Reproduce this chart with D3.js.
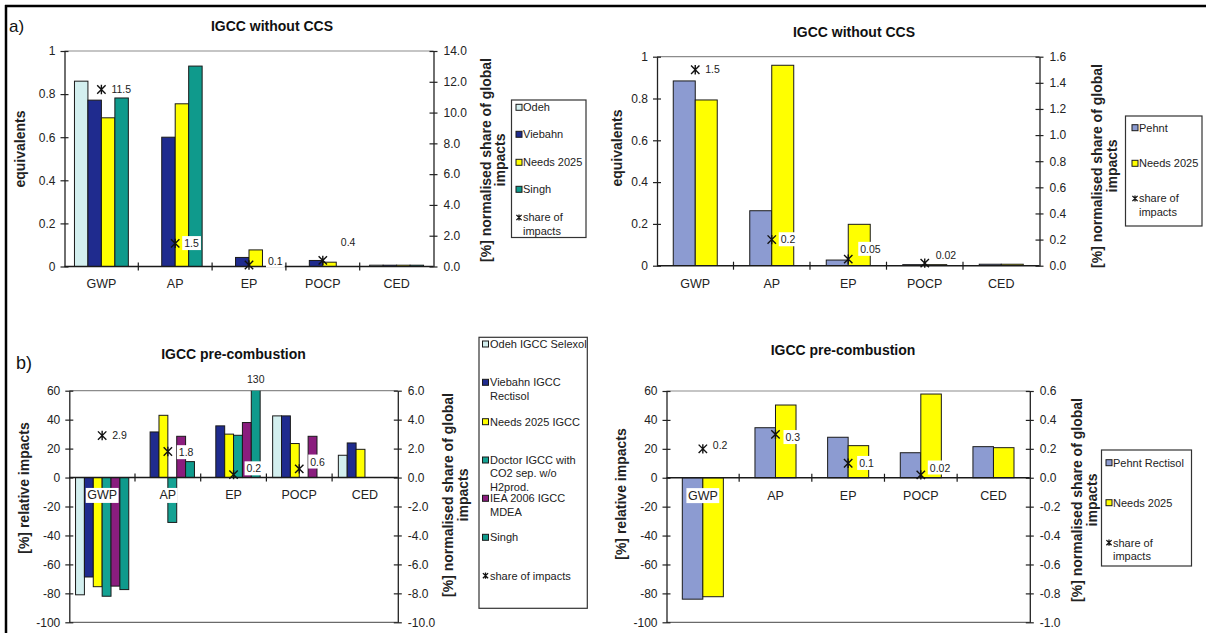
<!DOCTYPE html>
<html>
<head>
<meta charset="utf-8">
<script src="https://cdn.jsdelivr.net/npm/d3@7"></script>
<style>
  body { margin: 0; background: #fff; }
  svg { display: block; font-family: "Liberation Sans", Arial, sans-serif; }
</style>
</head>
<body>
<svg id="fig" width="1206" height="633"></svg>
<script>
// ---------- data ----------
const categories = ["GWP", "AP", "EP", "POCP", "CED"];

// a) IGCC without CCS, literature studies (equivalents)
const aLitSeries = ["Odeh", "Viebahn", "Needs 2025", "Singh"];
const aLitOdeh    = [0.86, null, null, null, 0.006];
const aLitViebahn = [0.772, 0.60, 0.042, 0.028, 0.006];
const aLitNeeds   = [0.69, 0.755, 0.077, 0.02, 0.006];
const aLitSingh   = [0.782, 0.93, null, null, 0.006];
const aLitShare   = [11.5, 1.5, 0.1, 0.4, null];

// a) IGCC without CCS, Pehnt vs Needs (equivalents)
const aPehSeries = ["Pehnt", "Needs 2025"];
const aPehPehnt  = [0.884, 0.263, 0.027, 0.005, 0.007];
const aPehNeeds  = [0.793, 0.959, 0.198, 0.005, 0.007];
const aPehShare  = [1.5, 0.2, 0.05, 0.02, null];

// b) IGCC pre-combustion, literature studies (% relative impacts)
const bLitSeries = ["Odeh IGCC Selexol", "Viebahn IGCC\nRectisol", "Needs 2025 IGCC",
                    "Doctor IGCC with\nCO2 sep. w/o\nH2prod.", "IEA 2006 IGCC\nMDEA", "Singh"];
const bLitOdeh    = [-81, null, null, 42.6, 15.4];
const bLitViebahn = [-68.7, 31.5, 35.7, 42.6, 23.9];
const bLitNeeds   = [-75.4, 43, 30, 23.5, 19.5];
const bLitDoctor  = [-82, -31, 29.2, null, null];
const bLitIEA     = [-75, 28.5, 38, 28.5, null];
const bLitSingh   = [-77.4, 11, 130, null, null];
const bLitShare   = [2.9, 1.8, 0.2, 0.6, null];

// b) IGCC pre-combustion, Pehnt vs Needs (% relative impacts)
const bPehSeries = ["Pehnt Rectisol", "Needs 2025"];
const bPehPehnt  = [-84, 34.6, 28, 17.3, 21.5];
const bPehNeeds  = [-82.3, 50.3, 22.2, 57.9, 20.8];
const bPehShare  = [0.2, 0.3, 0.1, 0.02, null];

// axis tick values
const ticksEquiv   = [0, 0.2, 0.4, 0.6, 0.8, 1];
const ticksShareA1 = [0, 2, 4, 6, 8, 10, 12, 14];
const ticksShareA2 = [0, 0.2, 0.4, 0.6, 0.8, 1.0, 1.2, 1.4, 1.6];
const ticksRel     = [-100, -80, -60, -40, -20, 0, 20, 40, 60];
const ticksShareB1 = [-10, -8, -6, -4, -2, 0, 2, 4, 6];
const ticksShareB2 = [-1.0, -0.8, -0.6, -0.4, -0.2, 0, 0.2, 0.4, 0.6];

const shareLegend = "share of\nimpacts";
const shareLegendOneLine = "share of impacts";

// ---------- styles ----------
const C = {
  odeh: "#d3efef", viebahn: "#1f2b8e", needs: "#ffff00", singh: "#0f9a8c",
  doctor: "#15a293", iea: "#8a1d7e", pehnt: "#8c9bd1"
};

const svg = d3.select("#fig");
svg.append("rect").attr("width", 1206).attr("height", 633).attr("fill", "#fff");

const fmtPlain = v => String(Math.round(v * 10) / 10);
const fmtFixed1 = v => { const s = (Math.round(v * 10) / 10).toFixed(1); return s === "-0.0" ? "0.0" : s; };

function markerPath(r) {
  return `M${-r},${-r}L${r},${r}M${-r},${r}L${r},${-r}M0,${-r - 0.5}L0,${r + 0.5}`;
}

function drawPanel(c) {
  const g = svg.append("g");
  const x0 = d3.scaleBand().domain(categories).range([c.left, c.right]);
  const step = x0.step();
  const gw = step * c.groupFrac;
  const x1 = d3.scaleBand().domain(d3.range(c.series.length)).range([0, gw]);
  const y = d3.scaleLinear().domain(c.yDomain).range([c.bottom, c.top]);
  const y2 = d3.scaleLinear().domain(c.y2Domain).range([c.bottom, c.top]);
  const y0 = y(0);

  // plot frame lines (gray)
  g.append("line").attr("x1", c.left).attr("x2", c.right).attr("y1", c.top).attr("y2", c.top)
    .attr("stroke", "#8c8c8c").attr("stroke-width", 1.2);
  if (Math.abs(c.bottom - y0) > 1) {
    g.append("line").attr("x1", c.left).attr("x2", c.right).attr("y1", c.bottom).attr("y2", c.bottom)
      .attr("stroke", "#6a6a6a").attr("stroke-width", 1.2);
  }

  // bars
  const clipId = "clip-" + c.id;
  svg.append("clipPath").attr("id", clipId).append("rect")
    .attr("x", c.left).attr("y", c.top).attr("width", c.right - c.left).attr("height", c.bottom - c.top);
  const bars = g.append("g").attr("clip-path", `url(#${clipId})`);
  const overs = [];
  c.series.forEach((s, si) => {
    s.values.forEach((v, ci) => {
      if (v == null) return;
      const bx = x0(categories[ci]) + (step - gw) / 2 + x1(si);
      bars.append("rect")
        .attr("x", bx).attr("width", x1.bandwidth())
        .attr("y", y(Math.max(0, v)))
        .attr("height", Math.max(0.8, Math.abs(y(v) - y0)))
        .attr("fill", s.color).attr("stroke", "#1a1a1a").attr("stroke-width", 1);
      if (v > c.yDomain[1]) overs.push({ x: bx + x1.bandwidth() / 2, v });
    });
  });
  overs.forEach(o => {
    g.append("text").attr("x", o.x).attr("y", c.top - 8).attr("text-anchor", "middle")
      .attr("font-size", 10.5).attr("fill", "#222").text(String(o.v));
  });

  // left axis
  const ax = g.append("g").attr("transform", `translate(${c.left},0)`)
    .call(d3.axisLeft(y).tickValues(c.yTicks).tickFormat(c.yFmt).tickSizeInner(4).tickSizeOuter(0).tickPadding(5));
  ax.select(".domain").attr("stroke", "#222").attr("stroke-width", 1.3);
  ax.selectAll(".tick line").attr("x1", 4).attr("stroke", "#222").attr("stroke-width", 1.2);
  ax.selectAll(".tick text").attr("font-size", 12).attr("fill", "#222").attr("font-family", null);

  // right axis
  const ax2 = g.append("g").attr("transform", `translate(${c.right},0)`)
    .call(d3.axisRight(y2).tickValues(c.y2Ticks).tickFormat(fmtFixed1).tickSizeInner(4).tickSizeOuter(0).tickPadding(6));
  ax2.select(".domain").attr("stroke", "#222").attr("stroke-width", 1.3);
  ax2.selectAll(".tick line").attr("x1", -4).attr("stroke", "#222").attr("stroke-width", 1.2);
  ax2.selectAll(".tick text").attr("font-size", 12).attr("fill", "#222").attr("font-family", null);

  // category axis along zero line
  g.append("line").attr("x1", c.left).attr("x2", c.right).attr("y1", y0).attr("y2", y0)
    .attr("stroke", "#1a1a1a").attr("stroke-width", 1.4);
  d3.range(1, categories.length).forEach(i => {
    const xx = c.left + i * step;
    g.append("line").attr("x1", xx).attr("x2", xx).attr("y1", y0 - 4).attr("y2", y0 + 4)
      .attr("stroke", "#1a1a1a").attr("stroke-width", 1.2);
  });
  const xa = g.append("g").attr("transform", `translate(0,${y0})`)
    .call(d3.axisBottom(x0).tickSize(0).tickPadding(c.catPad));
  xa.select(".domain").remove();
  xa.selectAll(".tick text").attr("font-size", 12.5).attr("fill", "#222").attr("font-family", null);
  xa.selectAll(".tick").each(function () {
    const t = d3.select(this).select("text");
    const bb = t.node().getBBox();
    d3.select(this).insert("rect", "text")
      .attr("x", bb.x - 1.5).attr("y", bb.y - 0.5).attr("width", bb.width + 3).attr("height", bb.height + 1)
      .attr("fill", "#fff");
  });

  // share-of-impacts markers and labels
  c.share.forEach((v, ci) => {
    if (v == null) return;
    const mx = x0(categories[ci]) + step / 2;
    const my = y2(v);
    const off = c.labelOffsets[ci];
    const lg = g.append("g");
    const t = lg.append("text").attr("x", mx + off[0]).attr("y", my + off[1]).attr("dy", "0.35em")
      .attr("font-size", 10.5).attr("fill", "#222").text(String(v));
    const bb = t.node().getBBox();
    lg.insert("rect", "text").attr("x", bb.x - 2).attr("y", bb.y - 1)
      .attr("width", bb.width + 4).attr("height", bb.height + 2).attr("fill", "#fff");
    g.append("path").attr("d", markerPath(4.2)).attr("transform", `translate(${mx},${my})`)
      .attr("stroke", "#111").attr("stroke-width", 1.4).attr("fill", "none");
  });

  // titles
  g.append("text").attr("x", c.titleX).attr("y", c.titleY).attr("text-anchor", "middle")
    .attr("font-size", 14).attr("font-weight", "bold").attr("fill", "#111").text(c.title);
  g.append("text").attr("transform", `translate(${c.yTitleX},${c.yTitleY}) rotate(-90)`)
    .attr("text-anchor", "middle").attr("dy", "0.35em")
    .attr("font-size", 14).attr("font-weight", "bold").attr("fill", "#222").text(c.yTitle);
  c.y2Title.forEach((line, i) => {
    g.append("text").attr("transform", `translate(${c.y2TitleX[i]},${c.y2TitleY}) rotate(-90)`)
      .attr("text-anchor", "middle").attr("dy", "0.35em")
      .attr("font-size", 14).attr("font-weight", "bold").attr("fill", "#222").text(line);
  });

  // legend
  const L = c.legend;
  g.append("rect").attr("x", L.x).attr("y", L.y).attr("width", L.w).attr("height", L.h)
    .attr("fill", "#fff").attr("stroke", "#333").attr("stroke-width", 1.2);
  const entries = c.series.map(s => ({ label: s.name, color: s.color }))
    .concat([{ label: c.shareLabel, color: null }]);
  entries.forEach((e, i) => {
    const ey = L.itemY[i];
    if (e.color) {
      g.append("rect").attr("x", L.swX).attr("y", ey - 3).attr("width", 6).attr("height", 6)
        .attr("fill", e.color).attr("stroke", "#1a1a1a").attr("stroke-width", 1);
    } else {
      g.append("path").attr("d", markerPath(2.6)).attr("transform", `translate(${L.swX + 3},${ey})`)
        .attr("stroke", "#111").attr("stroke-width", 1.3).attr("fill", "none");
    }
    e.label.split("\n").forEach((line, li) => {
      g.append("text").attr("x", L.txX + (li > 0 && L.indent ? L.indent : 0)).attr("y", ey + li * L.lh)
        .attr("dy", "0.35em").attr("font-size", 11).attr("fill", "#222").text(line);
    });
  });
}

// frame
svg.append("line").attr("x1", 5).attr("x2", 1206).attr("y1", 6).attr("y2", 6).attr("stroke", "#000").attr("stroke-width", 2.5);
svg.append("line").attr("x1", 6).attr("x2", 6).attr("y1", 5).attr("y2", 633).attr("stroke", "#000").attr("stroke-width", 2.5);
svg.append("text").attr("x", 9).attr("y", 32).attr("font-size", 17).attr("fill", "#111").text("a)");
svg.append("text").attr("x", 16).attr("y", 369).attr("font-size", 18).attr("fill", "#111").text("b)");

const y2TitleLines = ["[%] normalised share of global", "impacts"];

drawPanel({
  id: "aLit", left: 64.5, right: 433.5, top: 51, bottom: 266.5, groupFrac: 0.73, catPad: 13,
  yDomain: [0, 1], yTicks: ticksEquiv, yFmt: fmtPlain,
  y2Domain: [0, 14], y2Ticks: ticksShareA1,
  series: [
    { name: aLitSeries[0], color: C.odeh, values: aLitOdeh },
    { name: aLitSeries[1], color: C.viebahn, values: aLitViebahn },
    { name: aLitSeries[2], color: C.needs, values: aLitNeeds },
    { name: aLitSeries[3], color: C.singh, values: aLitSingh }
  ],
  share: aLitShare, labelOffsets: [[10, 0], [9, 0], [19, -4], [18, -18]],
  title: "IGCC without CCS", titleX: 272, titleY: 31,
  yTitle: "equivalents", yTitleX: 20.5, yTitleY: 149,
  y2Title: y2TitleLines, y2TitleX: [486, 500], y2TitleY: 160,
  shareLabel: shareLegend,
  legend: { x: 511.5, y: 100, w: 74.5, h: 137.5, swX: 516, txX: 523, lh: 14, indent: 0,
            itemY: [107.3, 134.3, 162.3, 189.3, 217.5] }
});

drawPanel({
  id: "aPeh", left: 657, right: 1039.5, top: 56.7, bottom: 265.7, groupFrac: 0.575, catPad: 13,
  yDomain: [0, 1], yTicks: ticksEquiv, yFmt: fmtPlain,
  y2Domain: [0, 1.6], y2Ticks: ticksShareA2,
  series: [
    { name: aPehSeries[0], color: C.pehnt, values: aPehPehnt },
    { name: aPehSeries[1], color: C.needs, values: aPehNeeds }
  ],
  share: aPehShare, labelOffsets: [[10, 0], [9, 0], [12, -10], [11, -8]],
  title: "IGCC without CCS", titleX: 854, titleY: 37,
  yTitle: "equivalents", yTitleX: 617.5, yTitleY: 148,
  y2Title: y2TitleLines, y2TitleX: [1097, 1112.5], y2TitleY: 166,
  shareLabel: shareLegend,
  legend: { x: 1125.5, y: 116, w: 76.5, h: 110, swX: 1132, txX: 1139, lh: 13.5, indent: 0,
            itemY: [127.7, 163.3, 198.5] }
});

drawPanel({
  id: "bLit", left: 69.3, right: 397.8, top: 390.7, bottom: 622.3, groupFrac: 0.81, catPad: 13,
  yDomain: [-100, 60], yTicks: ticksRel, yFmt: fmtPlain,
  y2Domain: [-10, 6], y2Ticks: ticksShareB1,
  series: [
    { name: bLitSeries[0], color: C.odeh, values: bLitOdeh },
    { name: bLitSeries[1], color: C.viebahn, values: bLitViebahn },
    { name: bLitSeries[2], color: C.needs, values: bLitNeeds },
    { name: bLitSeries[3], color: C.doctor, values: bLitDoctor },
    { name: bLitSeries[4], color: C.iea, values: bLitIEA },
    { name: bLitSeries[5], color: C.singh, values: bLitSingh }
  ],
  share: bLitShare, labelOffsets: [[10, 0], [11, 1], [13, -6], [11, -7]],
  title: "IGCC pre-combustion", titleX: 233.5, titleY: 358.5,
  yTitle: "[%] relative impacts", yTitleX: 23.7, yTitleY: 488,
  y2Title: y2TitleLines, y2TitleX: [448, 463.5], y2TitleY: 495,
  shareLabel: shareLegendOneLine,
  legend: { x: 479, y: 337.3, w: 108.3, h: 271, swX: 482.5, txX: 490, lh: 13.4, indent: 0,
            itemY: [344, 382.3, 421.7, 460, 498.3, 537.3, 575.7] }
});

drawPanel({
  id: "bPeh", left: 666.5, right: 1029.8, top: 391, bottom: 622.3, groupFrac: 0.565, catPad: 13,
  yDomain: [-100, 60], yTicks: ticksRel, yFmt: fmtPlain,
  y2Domain: [-1, 0.6], y2Ticks: ticksShareB2,
  series: [
    { name: bPehSeries[0], color: C.pehnt, values: bPehPehnt },
    { name: bPehSeries[1], color: C.needs, values: bPehNeeds }
  ],
  share: bPehShare, labelOffsets: [[10, -4], [10, 3], [11, 0], [9, -7]],
  title: "IGCC pre-combustion", titleX: 843, titleY: 354.5,
  yTitle: "[%] relative impacts", yTitleX: 621, yTitleY: 494,
  y2Title: y2TitleLines, y2TitleX: [1077.5, 1092], y2TitleY: 500,
  shareLabel: shareLegend,
  legend: { x: 1101.5, y: 450, w: 90, h: 116, swX: 1106, txX: 1113, lh: 13.4, indent: 0,
            itemY: [462.7, 502.7, 542.7] }
});
</script>
</body>
</html>
